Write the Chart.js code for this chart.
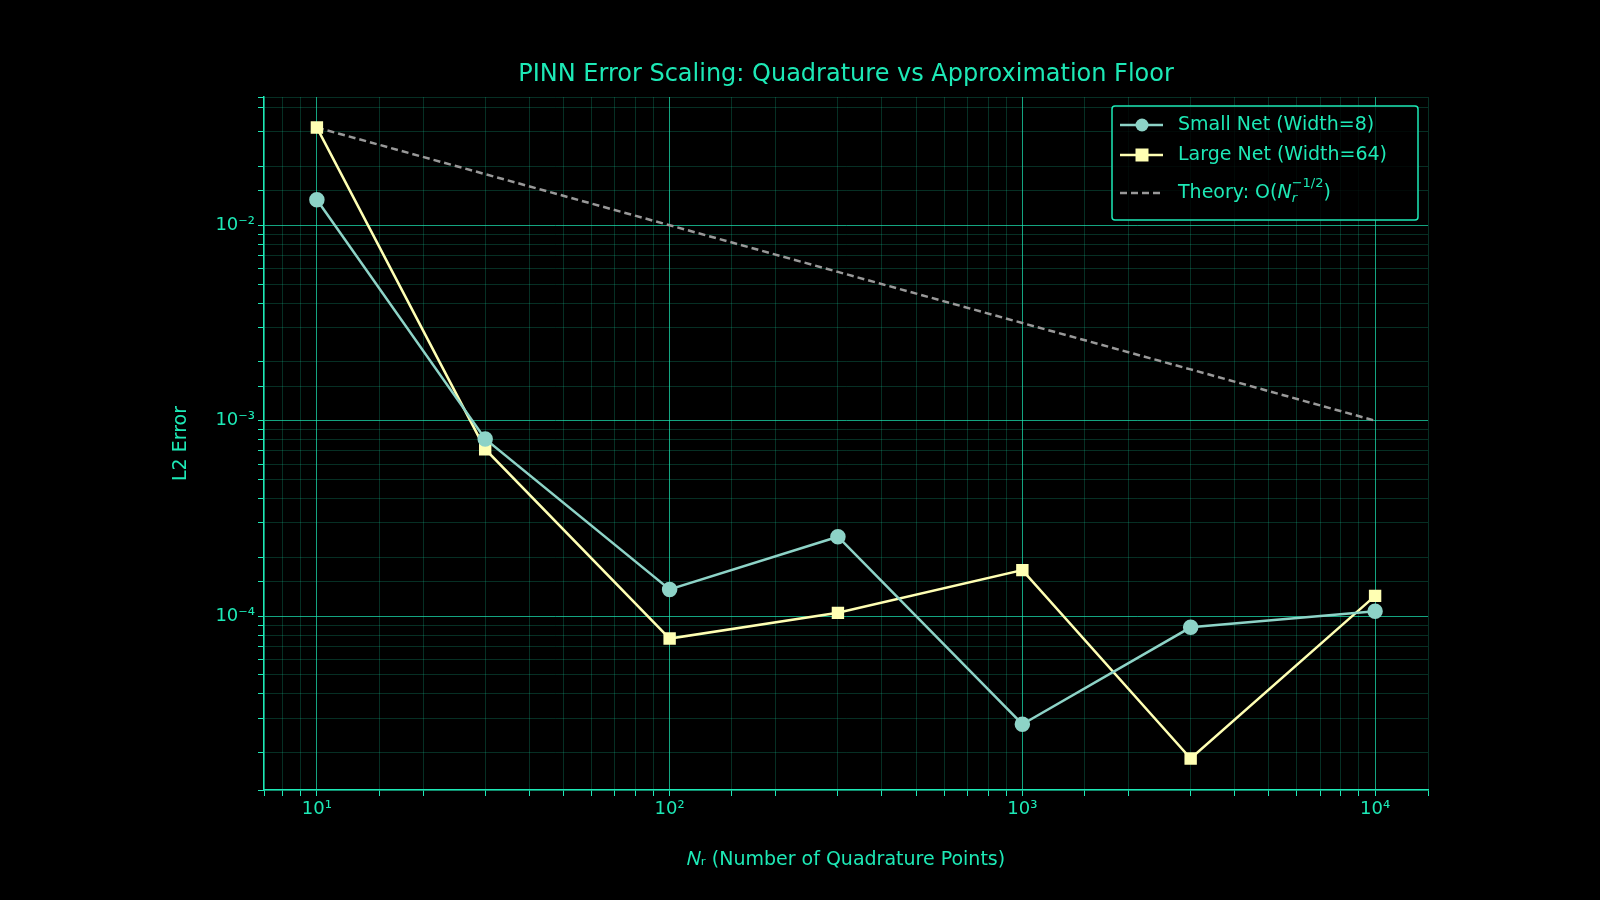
<!DOCTYPE html>
<html><head><meta charset="utf-8">
<script src="https://cdn.jsdelivr.net/npm/chart.js@4"></script>
<style>html,body{margin:0;background:#000}#w{width:1600px;height:900px}</style>
</head><body><div id="w"><canvas id="c"></canvas></div>
<script>
const nPoints = [10, 30, 100, 300, 1000, 3000, 10000];
const smallNet = [0.0135, 8.06e-4, 1.37e-4, 2.55e-4, 2.8e-5, 8.77e-5, 1.06e-4];
const largeNet = [0.0316, 7.15e-4, 7.68e-5, 1.04e-4, 1.72e-4, 1.87e-5, 1.27e-4];
const theory = [0.0316, 0.01826, 0.01, 0.00577, 0.00316, 0.00183, 0.001];
const TEAL = '#1de9b6';
const FONT = 'DejaVu Sans';
const sup = {'-':'⁻','0':'⁰','1':'¹','2':'²','3':'³','4':'⁴','5':'⁵'};
function isMajor(v){const l=Math.log10(v);return Math.abs(l-Math.round(l))<1e-9;}
function lbl(v){if(!isMajor(v))return '';const e=String(Math.round(Math.log10(v)));return '10'+e.split('').map(c=>sup[c]).join('');}
const gridColor = c => (c.tick && isMajor(c.tick.value)) ? 'rgba(29,233,182,0.7)' : 'rgba(29,233,182,0.2)';
const mk = v => v.map((y,k)=>({x:nPoints[k],y}));
const deco = {
  id:'deco',
  afterDraw(ch){
    const c=ch.ctx, a=ch.chartArea;
    c.save();
    c.fillStyle=TEAL; c.font='24px '+FONT; c.textAlign='center'; c.textBaseline='middle';
    c.fillText('PINN Error Scaling: Quadrature vs Approximation Floor',(a.left+a.right)/2,75);
    const x0=1112,y0=106,w=306,h=114;
    c.strokeStyle=TEAL; c.lineWidth=1.5; c.fillStyle='rgba(0,0,0,0.8)';
    c.beginPath(); c.roundRect(x0,y0,w,h,3); c.fill(); c.stroke();
    c.textAlign='left'; c.font='19px '+FONT;
    const rows=[['#8dd3c7','circle',125],['#ffffb3','square',155]];
    rows.forEach(([col,shape,y])=>{
      c.strokeStyle=col;c.lineWidth=2.5;c.setLineDash([]);
      c.beginPath();c.moveTo(1120,y);c.lineTo(1163,y);c.stroke();
      c.fillStyle=col;c.beginPath();
      if(shape==='circle')c.arc(1142,y,6.5,0,Math.PI*2);else c.rect(1135.5,y-6.5,13,13);
      c.fill();
    });
    c.fillStyle=TEAL;
    c.fillText('Small Net (Width=8)',1178,125);
    c.fillText('Large Net (Width=64)',1178,155);
    c.strokeStyle='#999';c.lineWidth=2.5;c.setLineDash([7,4]);
    c.beginPath();c.moveTo(1120,193);c.lineTo(1163,193);c.stroke();c.setLineDash([]);
    let tx=1178; const part=(t,f,dy)=>{c.font=f;c.fillText(t,tx,193+dy);tx+=c.measureText(t).width;};
    part('Theory: O(','19px '+FONT,0); part('N','italic 19px '+FONT,0);
    const sx=tx; part('r','italic 13px '+FONT,6); tx=sx; part('−1/2','13px '+FONT,-9); part(')','19px '+FONT,0);
    c.restore();
  }
};
new Chart(document.getElementById('c'),{
  type:'line',
  data:{datasets:[
    {label:'Small Net (Width=8)',data:mk(smallNet),borderColor:'#8dd3c7',backgroundColor:'#8dd3c7',borderWidth:2.5,pointStyle:'circle',pointRadius:6.5,pointHoverRadius:6.5},
    {label:'Large Net (Width=64)',data:mk(largeNet),borderColor:'#ffffb3',backgroundColor:'#ffffb3',borderWidth:2.5,pointStyle:'rect',pointRadius:7,pointHoverRadius:7},
    {label:'Theory',data:mk(theory),borderColor:'#999',borderDash:[7,4],borderWidth:2.5,pointRadius:0}
  ]},
  options:{
    responsive:true,maintainAspectRatio:false,animation:false,
    layout:{padding:{left:166,right:172,top:97,bottom:25}},
    plugins:{legend:{display:false},tooltip:{enabled:false}},
    scales:{
      x:{type:'logarithmic',min:7.08,max:14125,
        afterFit:s=>{s.height=85;},
        grid:{color:gridColor,tickColor:TEAL,tickLength:6},
        border:{color:TEAL,width:1.5},
        ticks:{color:TEAL,font:{family:FONT,size:18},autoSkip:false,maxRotation:0,callback:lbl},
        title:{display:true,text:'𝑁ᵣ (Number of Quadrature Points)',color:TEAL,font:{family:FONT,size:19}}},
      y:{type:'logarithmic',min:1.29e-5,max:0.0453,
        afterFit:s=>{s.width=98;},
        grid:{color:gridColor,tickColor:TEAL,tickLength:6},
        border:{color:TEAL,width:1.5},
        ticks:{color:TEAL,font:{family:FONT,size:18},autoSkip:false,callback:lbl},
        title:{display:true,text:'L2 Error',color:TEAL,font:{family:FONT,size:19}}}
    }
  },
  plugins:[deco]
});
</script></body></html>
